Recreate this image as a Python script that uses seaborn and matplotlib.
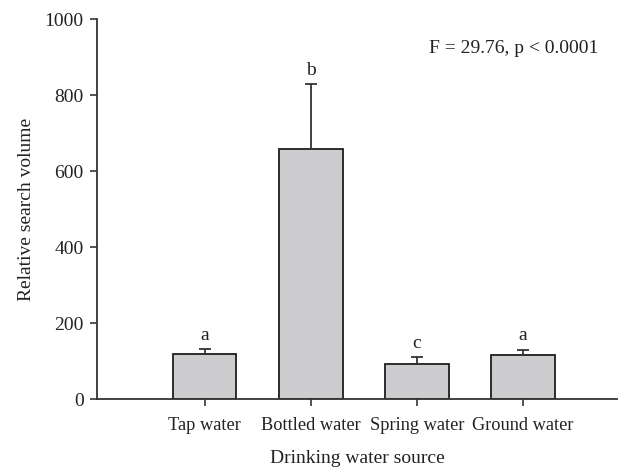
import matplotlib
matplotlib.use("Agg")
import matplotlib.pyplot as plt
import pandas as pd
import seaborn as sns

fuentes = ["Tap water", "Bottled water", "Spring water", "Ground water"]
volumen = [118, 659, 93, 117]
error_sup = [14, 170, 17, 13]
letras = ["a", "b", "c", "a"]
estadistico = "F = 29.76, p < 0.0001"

sns.set_theme(style="ticks")
plt.rcParams["font.family"] = ["Liberation Serif", "DejaVu Serif"]

df = pd.DataFrame({"fuente": fuentes, "volumen": volumen, "error": error_sup})

fig = plt.figure(figsize=(6.21, 4.67), dpi=100)
ax = fig.add_axes([0.157, 0.145, 0.837, 0.814])

sns.barplot(data=df, x="fuente", y="volumen", color="#cdcdcf", width=0.6,
            edgecolor="#1e1e1e", linewidth=1.3, saturation=1, ax=ax)

ax.errorbar(range(len(fuentes)), df["volumen"],
            yerr=[[0] * len(fuentes), df["error"]],
            fmt="none", ecolor="#333333", elinewidth=1.3, capsize=4, capthick=1.3)

for i, (v, e, l) in enumerate(zip(volumen, error_sup, letras)):
    ax.annotate(l, xy=(i, v + e), xytext=(0, 4), textcoords="offset points",
                ha="center", va="bottom", fontsize=14, color="#222222")

ax.text(3.71, 924, estadistico, ha="right", va="center", fontsize=14, color="#222222")

ax.set_xlim(-1.01, 3.89)
ax.set_ylim(0, 1000)
ax.set_yticks([0, 200, 400, 600, 800, 1000])
ax.set_xlabel("Drinking water source", fontsize=14, labelpad=11, color="#222222")
ax.set_ylabel("Relative search volume", fontsize=14, labelpad=7, color="#222222")
ax.tick_params(labelsize=14, colors="#333333", labelcolor="#222222", length=5, width=1.2)
ax.tick_params(axis="y", pad=5)
ax.tick_params(axis="x", pad=8, labelsize=13.2)
for lado in ["top", "right"]:
    ax.spines[lado].set_visible(False)
for lado in ["left", "bottom"]:
    ax.spines[lado].set_color("#333333")
    ax.spines[lado].set_linewidth(1.3)

fig.savefig("out.png", dpi=100)
plt.close(fig)
